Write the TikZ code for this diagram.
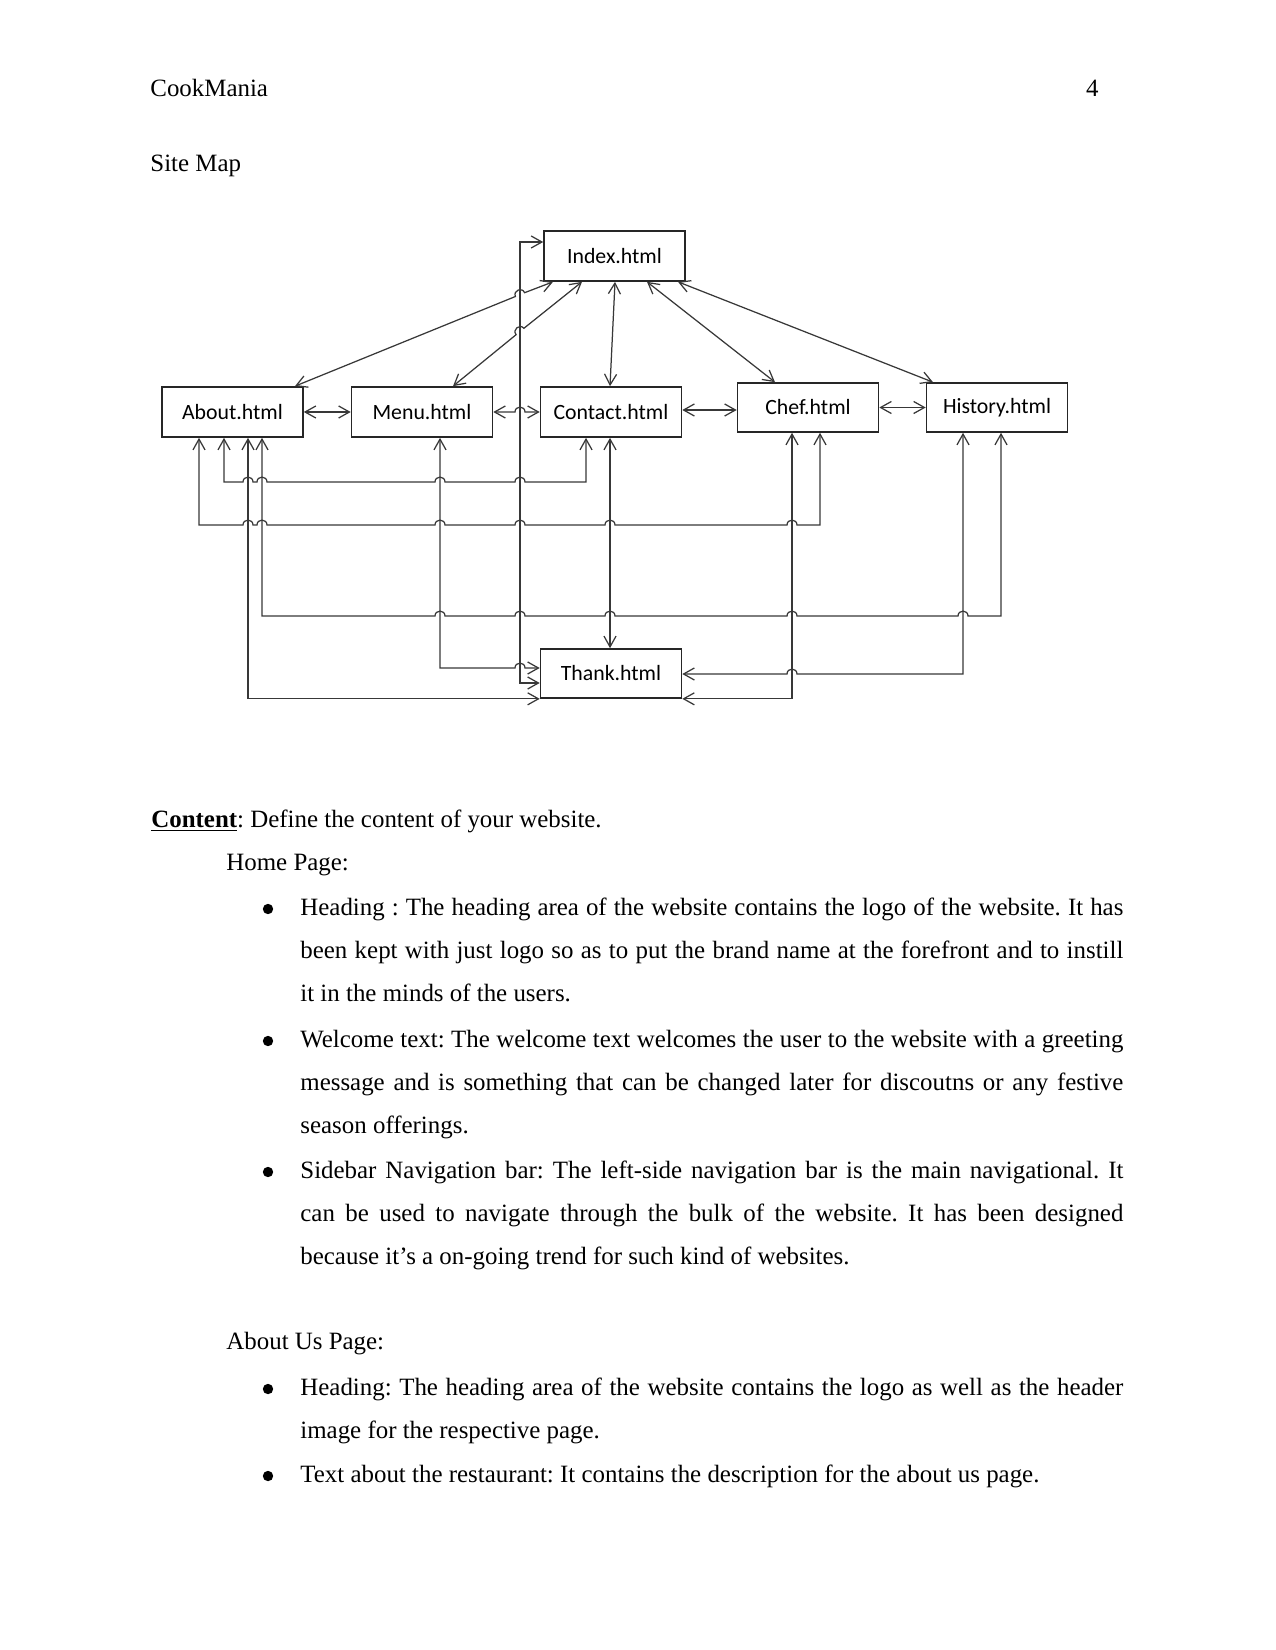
\documentclass[tikz,border=0pt]{standalone}
\usepackage{fontspec}
\setmainfont{Liberation Serif}
\newfontfamily\boxfont{Carlito}
\usetikzlibrary{arrows.meta}
\frenchspacing

% small jump of a horizontal line over a vertical one
\newcommand{\hop}[2]{-- ({#1-5},#2) .. controls +(0,-6.5) and +(0,-6.5) .. ({#1+5},#2)}

\begin{document}
\begin{tikzpicture}[x=0.4818pt, y=-0.4818pt,
        htmlbox/.style={rectangle, draw=black!85, line width=0.8pt, minimum width=67.9pt, minimum height=24.1pt, inner sep=0pt, font=\boxfont\fontsize{10.5}{12}\selectfont, text=black},
        link/.style={{Straight Barb[length=5.2pt,width=5.8pt]}-{Straight Barb[length=5.2pt,width=5.8pt]}, line width=0.6pt, draw=black!78},
        txt/.style={anchor=base west, inner sep=0pt, font=\fontsize{12}{14}\selectfont},
        para/.style={anchor=base west, inner sep=0pt, text width=396.5pt, align=justify, font=\fontsize{12}{20.8}\selectfont},
        dot/.style={circle, fill=black, inner sep=0pt, minimum size=5pt}]

        \useasboundingbox (0,0) rectangle (1275,1650);

        % Header
        \node[txt] (title) at (150,97) {CookMania};
        \node[txt, anchor=base east] (pageno) at (1099,97) {4};
        \node[txt] (sitemap) at (150,172) {Site Map};

        % Pages
        \node[htmlbox] (index) at (614.5,256) {Index.html};
        \node[htmlbox] (about) at (232.5,412) {About.html};
        \node[htmlbox] (menu) at (422,412) {Menu.html};
        \node[htmlbox] (contact) at (611,412) {Contact.html};
        \node[htmlbox, minimum height=23.6pt] (chef) at (808,407.5) {Chef.html};
        \node[htmlbox, minimum height=23.6pt] (history) at (997,407.5) {History.html};
        \node[htmlbox, minimum height=23.6pt] (thank) at (611,673.5) {Thank.html};

        % Links from Index
        \draw[link] (553,0 |- index.south) -- (524.6,292.7) .. controls +(-2.5,-6) and +(-2.5,-6) .. (515.4,296.5) -- (295,0 |- about.north);
        \draw[link] (582,0 |- index.south) -- (523.9,328.3) .. controls +(-4.1,-5) and +(-4.1,-5) .. (516.1,334.7) -- (453,0 |- menu.north);
        \draw[link] (615,0 |- index.south) -- (610,0 |- contact.north);
        \draw[link] (647,0 |- index.south) -- (775,0 |- chef.north);
        \draw[link] (678,0 |- index.south) -- (933,0 |- history.north);
        \draw[link] (index.west |- 0,242) -| (520,683) -- (thank.west |- 0,683);

        % Links along the row
        \draw[link] (about) -- (menu);
        \draw[link] (menu.east) \hop{520}{412} -- (contact.west);
        \draw[link] (contact.east |- 0,410) -- (chef.west |- 0,410);
        \draw[link] (chef) -- (history);

        % Links below the row
        \draw[link] (224,0 |- about.south) -- (224,482) \hop{248}{482} \hop{262}{482} \hop{440}{482} \hop{520}{482} -- (586,482) -- (586,0 |- contact.south);
        \draw[link] (199,0 |- about.south) -- (199,525) \hop{248}{525} \hop{262}{525} \hop{440}{525} \hop{520}{525} \hop{610}{525} \hop{792}{525} -- (820,525) -- (820,0 |- chef.south);
        \draw[link] (262,0 |- about.south) -- (262,616) \hop{440}{616} \hop{520}{616} \hop{610}{616} \hop{792}{616} \hop{963}{616} -- (1001,616) -- (1001,0 |- history.south);
        \draw[link] (248,0 |- about.south) |- (thank.south west);
        \draw[link] (440,0 |- menu.south) -- (440,668) \hop{520}{668} -- (thank.west |- 0,668);
        \draw[link] (610,0 |- contact.south) -- (610,0 |- thank.north);
        \draw[link] (thank.south east) -| (792,0 |- chef.south);
        \draw[link] (thank.east |- 0,674) \hop{792}{674} -- (963,674) -- (963,0 |- history.south);

        % Content
        \node[txt] (content) at (151,827) {\underline{\textbf{Content}}: Define the content of your website.};
        \node[txt] (home) at (226,870) {Home Page:};
        \node[dot] (d1) at (268,909) {};
        \node[para] (p1) at (300,915) {Heading : The heading area of the website contains the logo of the website. It has\linebreak been kept with just logo so as to put the brand name at the forefront and to instill\linebreak it in the minds of the users.};
        \node[dot] (d2) at (268,1041) {};
        \node[para] (p2) at (300,1047) {Welcome text: The welcome text welcomes the user to the website with a greeting\linebreak message and is something that can be changed later for discoutns or any festive\linebreak season offerings.};
        \node[dot] (d3) at (268,1172) {};
        \node[para] (p3) at (300,1178) {Sidebar Navigation bar: The left-side navigation bar is the main navigational. It\linebreak can be used to navigate through the bulk of the website. It has been designed\linebreak because it’s a on-going trend for such kind of websites.};
        \node[txt] (aboutus) at (226,1349) {About Us Page:};
        \node[dot] (d4) at (268,1389) {};
        \node[para] (p4) at (300,1395) {Heading: The heading area of the website contains the logo as well as the header\linebreak image for the respective page.};
        \node[dot] (d5) at (268,1476) {};
        \node[para] (p5) at (300,1482) {Text about the restaurant: It contains the description for the about us page.};

    \end{tikzpicture}
\end{document}
